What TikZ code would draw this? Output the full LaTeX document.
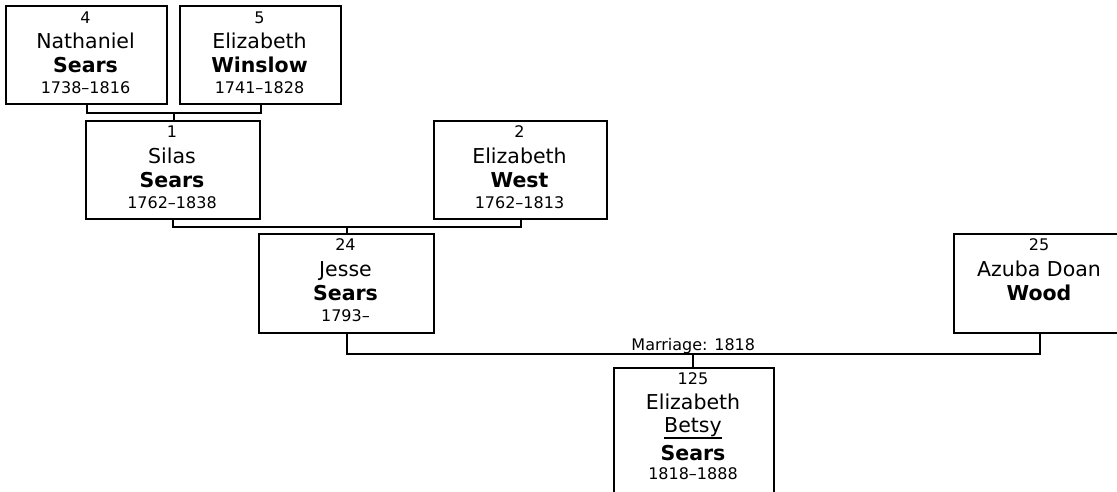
\documentclass[tikz,border=0pt]{standalone}
\usepackage{fontspec}
\setmainfont{DejaVu Sans}
\usetikzlibrary{calc}
\newcommand\myul[1]{\setbox0\hbox{#1}\rlap{\rule[-6.5pt]{\wd0}{1.3pt}}\box0}
\tikzset{
  box/.style={draw, line width=2pt, inner sep=0pt, anchor=north west},
  conn/.style={line width=2pt},
  bigtxt/.style={font=\fontsize{20.5}{24}\selectfont, anchor=base, inner sep=0pt},
  smalltxt/.style={font=\fontsize{16}{19}\selectfont, anchor=base, inner sep=0pt},
}
\begin{document}
\begin{tikzpicture}[x=1pt,y=-1pt]
\useasboundingbox (0,0) rectangle (1117,491);
\clip (0,0) rectangle (1117,491);
% boxes
\node[box, minimum width=161pt, minimum height=98pt] (b4) at (5,5) {};
\node[box, minimum width=161pt, minimum height=98pt] (b5) at (179,5) {};
\node[box, minimum width=174pt, minimum height=98pt] (b1) at (85,120) {};
\node[box, minimum width=173pt, minimum height=98pt] (b2) at (433,120) {};
\node[box, minimum width=175pt, minimum height=99pt] (b24) at (258,233) {};
\node[box, minimum width=172pt, minimum height=99pt] (b25) at (953,233) {};
\node[box, minimum width=160pt, minimum height=140pt] (b125) at (613,367) {};
% texts box 4
\node[smalltxt] (t4a) at (85.5,23) {4};
\node[bigtxt] (t4b) at (85.5,48) {Nathaniel};
\node[bigtxt] (t4c) at (85.5,72) {\textbf{Sears}};
\node[smalltxt] (t4d) at (85.5,93) {1738--1816};
% box 5
\node[smalltxt] (t5a) at (259.5,23) {5};
\node[bigtxt] (t5b) at (259.5,48) {Elizabeth};
\node[bigtxt] (t5c) at (259.5,72) {\textbf{Winslow}};
\node[smalltxt] (t5d) at (259.5,93) {1741--1828};
% box 1
\node[smalltxt] (t1a) at (172,137) {1};
\node[bigtxt] (t1b) at (172,163) {Silas};
\node[bigtxt] (t1c) at (172,187) {\textbf{Sears}};
\node[smalltxt] (t1d) at (172,208) {1762--1838};
% box 2
\node[smalltxt] (t2a) at (519.5,137) {2};
\node[bigtxt] (t2b) at (519.5,163) {Elizabeth};
\node[bigtxt] (t2c) at (519.5,187) {\textbf{West}};
\node[smalltxt] (t2d) at (519.5,208) {1762--1813};
% box 24
\node[smalltxt] (t24a) at (345.5,250) {24};
\node[bigtxt] (t24b) at (345.5,276) {Jesse};
\node[bigtxt] (t24c) at (345.5,300) {\textbf{Sears}};
\node[smalltxt] (t24d) at (345.5,321) {1793--};
% box 25
\node[smalltxt] (t25a) at (1039,250) {25};
\node[bigtxt] (t25b) at (1039,276) {Azuba Doan};
\node[bigtxt] (t25c) at (1039,300) {\textbf{Wood}};
% box 125
\node[smalltxt] (t125a) at (693,384) {125};
\node[bigtxt] (t125b) at (693,409) {Elizabeth};
\node[bigtxt] (t125c) at (693,432) {\myul{Betsy}};
\node[bigtxt] (t125d) at (693,460) {\textbf{Sears}};
\node[smalltxt] (t125e) at (693,479) {1818--1888};
% connectors
\coordinate (j45) at ($(b4.south)!0.5!(b5.south)+(0,8)$);
\draw[conn] (b4.south) -- ++(0,8) -| (b5.south);
\draw[conn] (j45) -- (j45 |- b1.north);
\coordinate (j12) at ($(b1.south)!0.5!(b2.south)+(0,7)$);
\draw[conn] (b1.south) -- ++(0,7) -| (b2.south);
\draw[conn] (j12) -- (j12 |- b24.north);
\coordinate (jm) at ($(b24.south)!0.5!(b25.south)+(0,20)$);
\draw[conn] (b24.south) -- ++(0,20) -| (b25.south);
\draw[conn] (jm) -- (jm |- b125.north);
\node[smalltxt] (mlab) at ($(jm)+(0,-4)$) {Marriage: 1818};
\end{tikzpicture}
\end{document}
